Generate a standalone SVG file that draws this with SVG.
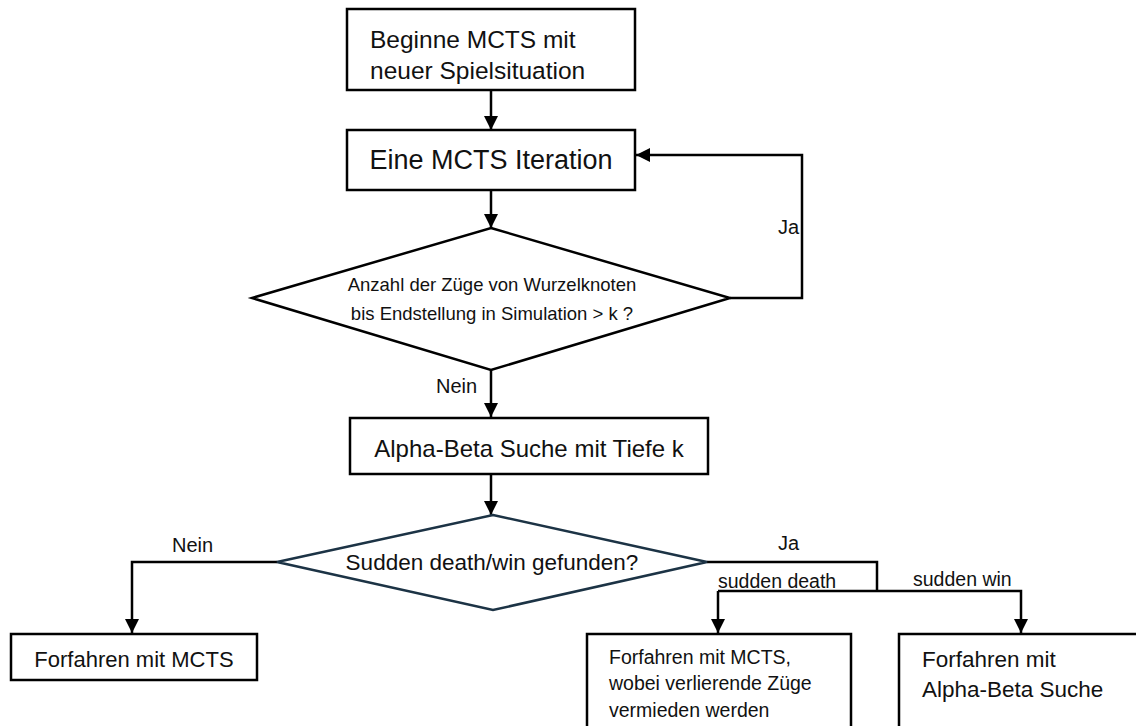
<svg xmlns="http://www.w3.org/2000/svg" width="1136" height="726" viewBox="0 0 1136 726">
<defs>
<style>
.box{fill:#fff;stroke:#000;stroke-width:2.5}
.dia{fill:#fff;stroke:#000;stroke-width:2.5}
.dia2{fill:#fff;stroke:#1c3345;stroke-width:2.5}
.ln{fill:none;stroke:#000;stroke-width:2.5}
text{font-family:"Liberation Sans",Arial,sans-serif;fill:#111}
</style>
<marker id="ah" markerUnits="userSpaceOnUse" markerWidth="14" markerHeight="14" viewBox="0 0 14 14" refX="14" refY="7" orient="auto">
<path d="M0,0 L14,7 L0,14 Z" fill="#000"/>
</marker>
</defs>
<rect width="1136" height="726" fill="#fff"/>
<g id="connectors">
<line class="ln" x1="491" y1="90" x2="491" y2="130" marker-end="url(#ah)"/>
<line class="ln" x1="491" y1="190" x2="491" y2="228" marker-end="url(#ah)"/>
<polyline class="ln" points="730,298 802,298 802,155 636,155" marker-end="url(#ah)"/>
<line class="ln" x1="491" y1="370" x2="491" y2="417" marker-end="url(#ah)"/>
<line class="ln" x1="491" y1="474" x2="491" y2="515" marker-end="url(#ah)"/>
<polyline class="ln" points="277,562 132,562 132,633" marker-end="url(#ah)"/>
<polyline class="ln" points="707,562 877,562 877,591"/>
<polyline class="ln" points="718,591 1021,591 1021,633" marker-end="url(#ah)"/>
<line class="ln" x1="718" y1="591" x2="718" y2="633" marker-end="url(#ah)"/>
<text x="778" y="234" font-size="20">Ja</text>
<text x="436" y="393" font-size="20">Nein</text>
<text x="172" y="552" font-size="20">Nein</text>
<text x="778" y="550" font-size="20">Ja</text>
<text x="718" y="588" font-size="19.5">sudden death</text>
<text x="913" y="586" font-size="19.5">sudden win</text>
</g>
<g id="n1">
<rect class="box" x="347" y="9" width="288" height="81"/>
<text x="370" y="48" font-size="24.5">Beginne MCTS mit</text>
<text x="370" y="79" font-size="24.5">neuer Spielsituation</text>
</g>
<g id="n2">
<rect class="box" x="347" y="130" width="288" height="60"/>
<text x="491" y="169" font-size="27" text-anchor="middle">Eine MCTS Iteration</text>
</g>
<g id="d1">
<polygon class="dia" points="491,228 730,298 491,370 252,298"/>
<text x="492" y="291" font-size="18.5" text-anchor="middle">Anzahl der Züge von Wurzelknoten</text>
<text x="492" y="320" font-size="18.5" text-anchor="middle">bis Endstellung in Simulation &gt; k ?</text>
</g>
<g id="n3">
<rect class="box" x="350" y="418" width="358" height="56"/>
<text x="529" y="457" font-size="24" text-anchor="middle">Alpha-Beta Suche mit Tiefe k</text>
</g>
<g id="d2">
<polygon class="dia2" points="493,515 707,562 493,610 277,562"/>
<text x="492" y="570" font-size="22.5" text-anchor="middle">Sudden death/win gefunden?</text>
</g>
<g id="n4">
<rect class="box" x="11" y="634" width="246" height="46"/>
<text x="134" y="667" font-size="22" text-anchor="middle">Forfahren mit MCTS</text>
</g>
<g id="n5">
<rect class="box" x="587" y="634" width="264" height="100"/>
<text x="609" y="664" font-size="19.5">Forfahren mit MCTS,</text>
<text x="609" y="690" font-size="19.5">wobei verlierende Züge</text>
<text x="609" y="717" font-size="19.5">vermieden werden</text>
</g>
<g id="n6">
<rect class="box" x="899" y="634" width="250" height="100"/>
<text x="922" y="667" font-size="22.5">Forfahren mit</text>
<text x="922" y="697" font-size="22.5">Alpha-Beta Suche</text>
</g>
</svg>
